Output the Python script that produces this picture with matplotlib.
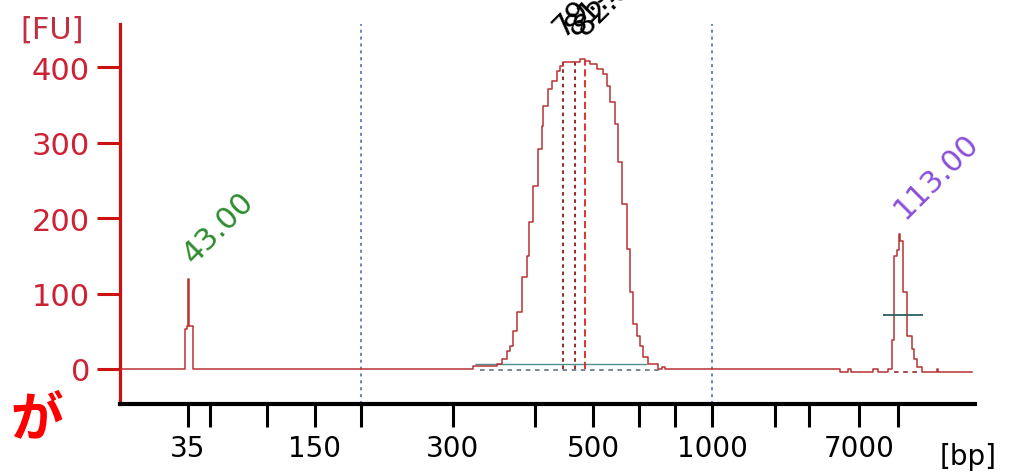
import matplotlib
matplotlib.use("Agg")
import matplotlib.pyplot as plt

# electropherogram trace, migration time (s) vs fluorescence (FU)
trace_t = [36.3, 42.70, 42.90, 43.00, 43.06, 43.49,
           71.06, 73.42, 73.91, 74.41, 74.70, 75.00, 75.39, 75.88, 76.38, 76.57,
           76.97, 77.46, 77.85, 77.95, 78.44, 78.84, 79.33, 79.62, 79.92, 80.61,
           81.59, 82.09, 82.58, 83.27, 83.86, 84.25, 84.55, 85.04, 85.34, 85.73,
           86.22, 86.52, 86.81, 87.21, 87.51, 87.81, 88.30, 89.28, 89.67, 89.96,
           107.19, 107.98, 108.30, 110.44, 110.93, 111.92, 112.28, 112.54, 112.78,
           113.00, 113.08, 113.42, 113.82, 114.25, 114.48, 114.80, 115.24, 116.74,
           116.84, 120.19]
trace_fu = [0, 53, 57, 119, 57, 0,
            4, 7, 13, 24, 30, 50, 75, 122, 150, 195,
            242, 291, 322, 348, 371, 381, 395, 401, 407, 407,
            411, 408, 404, 397, 391, 375, 354, 325, 274, 219,
            159, 102, 60, 44, 30, 16, 7, 0, 3, 0,
            -4, 0, -4, 0, -4, 0, 38, 150, 157,
            179, 170, 102, 44, 26, 13, 3, -4, 0,
            -4, -4]

# ladder: size in bp and migration time
ladder_bp = [35, 50, 100, 150, 200, 300, 400, 500, 600, 700, 1000, 2000, 3000, 7000, 10380]
ladder_t = [43.0, 45.22, 50.78, 55.50, 59.99, 69.09, 77.16, 82.87, 87.40, 90.95,
            94.59, 100.79, 104.09, 109.06, 112.85]
shown_bp = [35, 150, 300, 500, 1000, 7000]
region_bp = [200, 1000]

# peak labels
marker_t = [43.0, 113.0]
marker_fu = [119, 179]
marker_lbl = ["43.00", "113.00"]
marker_col = ["#2e8b2e", "#8a4fd8"]
main_t = [79.92, 81.10, 82.05]
main_fu = [407, 409, 408]
main_lbl = ["79.92", "81.10", "82.05"]

yticks = [0, 100, 200, 300, 400]

fig = plt.figure(figsize=(10.15, 4.77), dpi=100)
ax = fig.add_axes([0.1182, 0.1509, 0.8424, 0.7967])

ax.plot(trace_t, trace_fu, drawstyle="steps-post", color="#b83232", lw=1.1, zorder=3)

# region lines at 200 and 1000 bp
for b in region_bp:
    ax.axvline(ladder_t[ladder_bp.index(b)], color="#4a5fb0", ls=(0, (2, 2.5)), lw=1.1, zorder=1)

# smear baseline under the main peak
ax.hlines(7, 71.26, 88.2, color="#4f8f8f", lw=1.0, zorder=2)
ax.hlines(-1, 71.75, 89.6, color="#5a6478", ls=(0, (3, 3)), lw=1.1, zorder=2)

# main peak markers
ax.vlines(main_t[:2], 0, main_fu[:2], color="#8b1a1a", ls=(0, (2, 2)), lw=1.3, zorder=2)
ax.vlines(main_t[2], 0, main_fu[2], color="#dd2222", ls=(0, (4, 2)), lw=1.3, zorder=2)
for t, f, s in zip(main_t, main_fu, main_lbl):
    ax.annotate(s, xy=(t, f), xytext=(-4, 22), textcoords="offset points",
                rotation=45, rotation_mode="anchor", ha="left", va="center",
                fontsize=22, color="black")

# upper marker baseline and half height line
ax.hlines(-4, 112.5, 115.2, color="#8b1a1a", ls=(0, (3, 3)), lw=1.1, zorder=2)
ax.hlines(72, 111.43, 115.4, color="#2f5f5f", lw=1.3, zorder=4)

for t, f, s, c in zip(marker_t, marker_fu, marker_lbl, marker_col):
    ax.annotate(s, xy=(t, f), xytext=(0, 15), textcoords="offset points",
                rotation=45, rotation_mode="anchor", ha="left", va="center",
                fontsize=22, color=c)

ax.set_xlim(36.31, 120.48)
ax.set_ylim(-46.4, 457)

ax.spines["top"].set_visible(False)
ax.spines["right"].set_visible(False)
ax.spines["left"].set_color("#cc1111")
ax.spines["left"].set_linewidth(2.3)
ax.spines["bottom"].set_color("black")
ax.spines["bottom"].set_linewidth(3)

ax.set_yticks(yticks)
ax.tick_params(axis="y", direction="out", length=16.5, width=2.2, color="#cc1111",
               labelcolor="#cc2233", labelsize=22, pad=5)

ax.set_xticks(ladder_t)
ax.set_xticklabels([str(b) if b in shown_bp else "" for b in ladder_bp])
ax.tick_params(axis="x", direction="out", length=16.5, width=2.2, color="black",
               labelsize=20, pad=5)

fig.text(52 / 1015, 1 - 30 / 477, "[FU]", color="#c03040", fontsize=22, ha="center", va="center")
fig.text(968 / 1015, 1 - 457 / 477, "[bp]", color="black", fontsize=20, ha="center", va="center")
fig.text(37 / 1015, 1 - 420 / 477, "が", color="#ff0000", fontsize=38, fontweight="bold",
         ha="center", va="center", family=["Noto Sans CJK JP", "DejaVu Sans"])

fig.savefig("out.png", dpi=100)
